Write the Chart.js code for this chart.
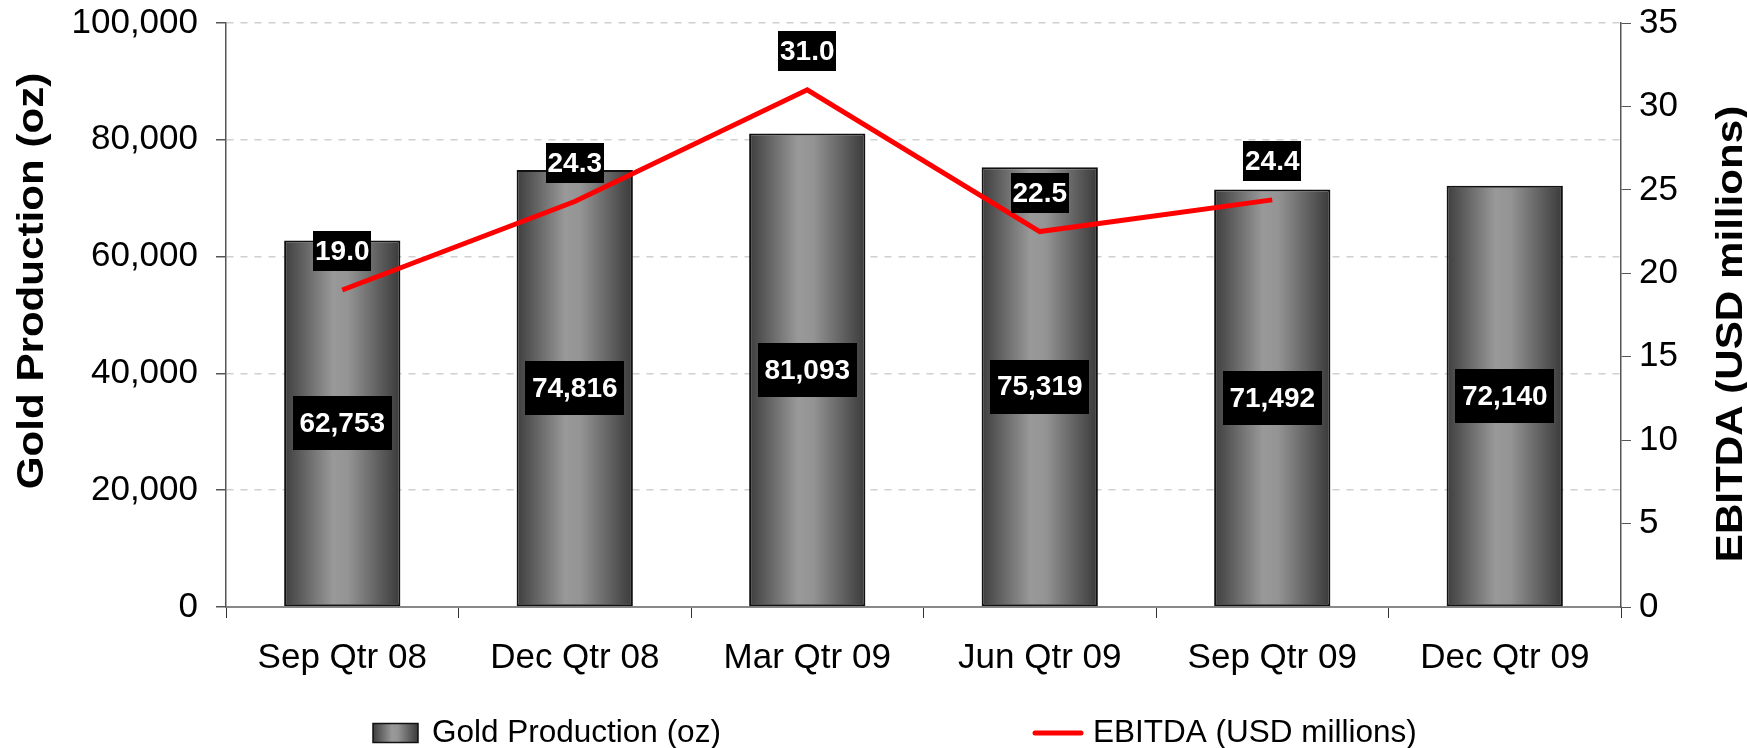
<!DOCTYPE html>
<html>
<head>
<meta charset="utf-8">
<script src="https://cdn.jsdelivr.net/npm/chart.js@4.4.0/dist/chart.umd.min.js"></script>
<style>
    html, body { margin: 0; padding: 0; background: #fff; }
</style>
</head>
<body>
<canvas id="chart" width="1747" height="748"></canvas>
<script>
const quarters = ["Sep Qtr 08", "Dec Qtr 08", "Mar Qtr 09", "Jun Qtr 09", "Sep Qtr 09", "Dec Qtr 09"];
const goldOz = [62753, 74816, 81093, 75319, 71492, 72140];
const ebitda = [19.0, 24.3, 31.0, 22.5, 24.4, null];
const ozTicks = [0, 20000, 40000, 60000, 80000, 100000];
const ebitdaTicks = [0, 5, 10, 15, 20, 25, 30, 35];
const seriesNames = ["Gold Production (oz)", "EBITDA (USD millions)"];

const FONT = "\"Liberation Sans\", Arial, sans-serif";
const BAR_PCT = 0.5;

Chart.defaults.font.family = FONT;
Chart.defaults.color = "#000";

// horizontal dark-light-dark shading like the old Excel cylinder look
const shade = (ctx, x0, x1) => {
    const g = ctx.createLinearGradient(x0, 0, x1, 0);
    g.addColorStop(0, "#3e3e3e");
    g.addColorStop(0.42, "#999999");
    g.addColorStop(0.55, "#949494");
    g.addColorStop(1, "#3a3a3a");
    return g;
};

const barFill = (c) => {
    const chart = c.chart;
    if (!chart.chartArea || c.dataIndex === undefined) return "#777";
    const xs = chart.scales.x;
    const cx = xs.getPixelForValue(c.dataIndex);
    const half = xs.width / quarters.length * BAR_PCT / 2;
    return shade(chart.ctx, cx - half, cx + half);
};

const drawTag = (ctx, text, x, y, padX, h) => {
    const w = ctx.measureText(text).width + padX;
    ctx.fillStyle = "#000";
    ctx.fillRect(Math.round(x - w / 2), Math.round(y - h / 2), Math.round(w), h);
    ctx.fillStyle = "#fff";
    ctx.fillText(text, x, y + 1);
};

const tagPlugin = {
    id: "tags",
    afterDatasetsDraw(chart) {
        const ctx = chart.ctx;
        ctx.save();
        ctx.font = "bold 28px " + FONT;
        ctx.textAlign = "center";
        ctx.textBaseline = "middle";
        chart.getDatasetMeta(0).data.forEach((bar, i) => {
            drawTag(ctx, goldOz[i].toLocaleString("en-US"), bar.x, (bar.y + bar.base) / 2, 13, 54);
        });
        chart.getDatasetMeta(1).data.forEach((pt, i) => {
            if (ebitda[i] == null) return;
            drawTag(ctx, ebitda[i].toFixed(1), pt.x, pt.y - 38.5, 4, 40);
        });
        ctx.restore();
    }
};

// axis titles read bottom-to-top on both sides and are a bit stretched
const drawTitle = (ctx, text, x, y) => {
    ctx.save();
    ctx.translate(x, y);
    ctx.rotate(-Math.PI / 2);
    ctx.scale(1.17, 1);
    ctx.font = "bold 36px " + FONT;
    ctx.textAlign = "center";
    ctx.textBaseline = "alphabetic";
    ctx.fillStyle = "#000";
    ctx.fillText(text, 0, 0);
    ctx.restore();
};

const titlePlugin = {
    id: "axisTitles",
    afterDraw(chart) {
        const { ctx, chartArea } = chart;
        drawTitle(ctx, seriesNames[0], 43, chartArea.top + 258);
        drawTitle(ctx, seriesNames[1], chart.width - 5, chartArea.top + 311);
    }
};

const legendPlugin = {
    id: "bottomLegend",
    afterDraw(chart) {
        const { ctx, chartArea } = chart;
        const y = chart.height - 15;
        ctx.save();
        ctx.font = "31.5px " + FONT;
        ctx.textBaseline = "middle";
        ctx.textAlign = "left";

        const bx = chartArea.left + 147;
        ctx.fillStyle = shade(ctx, bx, bx + 45);
        ctx.fillRect(bx, y - 9.5, 45, 19);
        ctx.strokeStyle = "#111";
        ctx.lineWidth = 1.5;
        ctx.strokeRect(bx, y - 9.5, 45, 19);
        ctx.fillStyle = "#000";
        ctx.fillText(seriesNames[0], bx + 59, y);

        const lx = chartArea.left + 807;
        ctx.strokeStyle = "#ff0000";
        ctx.lineWidth = 5;
        ctx.lineCap = "round";
        ctx.beginPath();
        ctx.moveTo(lx + 2, y);
        ctx.lineTo(lx + 48, y);
        ctx.stroke();
        ctx.fillText(seriesNames[1], lx + 60, y);
        ctx.restore();
    }
};

const tickFont = { size: 35 };

// pin the axis boxes so the plot area lands where the original has it
const pinY = (w) => (s) => {
    s.width = w;
    s.paddingTop = 0;
    s.paddingBottom = 0;
};

new Chart(document.getElementById("chart"), {
    type: "bar",
    data: {
        labels: quarters,
        datasets: [
            {
                type: "bar",
                label: seriesNames[0],
                data: goldOz,
                yAxisID: "y",
                order: 2,
                backgroundColor: barFill,
                borderColor: "#111",
                borderWidth: 2,
                borderSkipped: false,
                barPercentage: BAR_PCT,
                categoryPercentage: 1
            },
            {
                type: "line",
                label: seriesNames[1],
                data: ebitda,
                yAxisID: "y1",
                order: 1,
                borderColor: "#ff0000",
                borderWidth: 5,
                tension: 0,
                pointRadius: 0,
                spanGaps: false
            }
        ]
    },
    options: {
        responsive: false,
        animation: false,
        layout: { padding: { top: 23, bottom: 51, left: 0, right: 0 } },
        plugins: {
            legend: { display: false },
            tooltip: { enabled: false }
        },
        scales: {
            x: {
                afterFit: (s) => { s.height = 90; },
                border: { color: "#888", width: 2 },
                grid: { drawOnChartArea: false, tickLength: 11, tickColor: "#333", offset: true },
                ticks: { font: tickFont, padding: 19, maxRotation: 0 }
            },
            y: {
                position: "left",
                min: 0,
                max: 100000,
                afterFit: pinY(226),
                afterBuildTicks: (s) => { s.ticks = ozTicks.map((v) => ({ value: v })); },
                border: { color: "#555", width: 1.5, dash: [7, 7] },
                grid: {
                    color: (c) => (c.tick && c.tick.value === 0 ? "rgba(0,0,0,0)" : "#d0d0d0"),
                    lineWidth: 1.5,
                    tickLength: 10,
                    tickColor: "#555",
                    tickBorderDash: []
                },
                ticks: {
                    font: tickFont,
                    padding: 18,
                    callback: (v) => v.toLocaleString("en-US")
                }
            },
            y1: {
                position: "right",
                min: 0,
                max: 35,
                afterFit: pinY(126),
                afterBuildTicks: (s) => { s.ticks = ebitdaTicks.map((v) => ({ value: v })); },
                border: { color: "#555", width: 1.5 },
                grid: { drawOnChartArea: false, tickLength: 10, tickColor: "#555" },
                ticks: { font: tickFont, padding: 8 }
            }
        }
    },
    plugins: [tagPlugin, titlePlugin, legendPlugin]
});
</script>
</body>
</html>
